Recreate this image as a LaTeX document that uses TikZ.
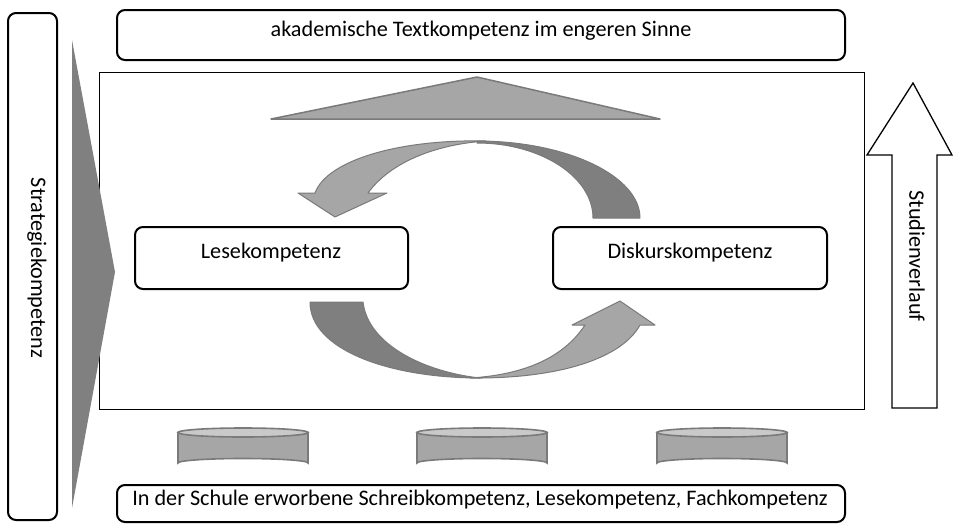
\documentclass[tikz,border=0pt]{standalone}
\usepackage{fontspec}
\setmainfont{Carlito}
\definecolor{fillLight}{HTML}{A6A6A6}
\definecolor{fillDark}{HTML}{7F7F7F}
\definecolor{rimGray}{HTML}{7A7A7A}
\definecolor{discTop}{HTML}{C9C9C9}
\definecolor{wedgeGray}{HTML}{808080}
\begin{document}
\begin{tikzpicture}[x=1pt,y=-1pt,
  rbox/.style={draw=black, line width=2pt, rounded corners=8pt, inner sep=0pt, fill=white},
  lbl/.style={font=\fontsize{22.2}{26}\selectfont, inner sep=0pt},
  lightshape/.style={fill=fillLight, draw=rimGray, line width=1pt, line join=round},
  darkshape/.style={fill=fillDark, draw=rimGray, line width=1pt, line join=round},
  disc/.style={fill=fillLight, draw=rimGray, line width=1.6pt},
  disctop/.style={fill=discTop, draw=rimGray, line width=1.6pt}]
\useasboundingbox (0,0) rectangle (953,525);

% outer frame around the two competences
\node[draw=black, line width=1pt, minimum width=765pt, minimum height=337pt, inner sep=0pt] (frame) at (481.5,240.5) {};

% side box: strategy competence
\node[rbox, minimum width=49pt, minimum height=507pt] (strat) at (32.5,266.5) {};
\node[lbl, rotate=-90] (stratT) at (37,268) {Strategiekompetenz};

% grey wedge pointing into the frame
\fill[wedgeGray] (72,40) -- (115,272) -- (72,508) -- cycle;

% top box
\node[rbox, minimum width=728pt, minimum height=50pt] (top) at (481,35) {};
\node[lbl] (topT) at (481,31) {akademische Textkompetenz im engeren Sinne};

% roof triangle
\draw[lightshape, line width=1.5pt] (271,119) -- (477,77) -- (660,119) -- cycle;

% competence boxes
\node[rbox, minimum width=273pt, minimum height=62pt] (lese) at (271.5,258) {};
\node[lbl] (leseT) at (271,253) {Lesekompetenz};
\node[rbox, minimum width=274pt, minimum height=62pt] (disk) at (690,258) {};
\node[lbl] (diskT) at (690,253) {Diskurskompetenz};

% upper circular arrow (Diskurs -> Lese)
\draw[darkshape] (477,141) .. controls (567,141) and (640,176) .. (640,218)
  -- (593,218) .. controls (593,177) and (541,143) .. (477,143) -- cycle;
\draw[lightshape] (486,141) .. controls (400,139) and (327,160) .. (315,193)
  -- (298,193) -- (335,217) -- (387,193) -- (368,193)
  .. controls (392,160) and (440,144) .. (486,141) -- cycle;

% lower circular arrow (Lese -> Diskurs)
\draw[darkshape] (310,302) .. controls (310,350) and (390,378) .. (480,378)
  .. controls (425,372) and (368,345) .. (363,302) -- cycle;
\draw[lightshape] (470,378) .. controls (560,379) and (622,358) .. (640,325)
  -- (655,325) -- (620,301) -- (572,325) -- (585,325)
  .. controls (562,360) and (520,375) .. (470,378) -- cycle;

% right arrow: course of studies
\draw[line width=1.3pt, fill=white, line join=miter]
  (913,83) -- (952,155) -- (937,155) -- (937,408) -- (892,408) -- (892,155) -- (867,155) -- cycle;
\node[lbl, rotate=-90] (studT) at (917,256) {Studienverlauf};

% foundation discs
\foreach \cx/\nm in {243/d1, 482/d2, 722/d3}{
  \draw[disc] (\cx-65,432.5) -- (\cx-65,463) arc[start angle=180, end angle=0, x radius=65pt, y radius=4.5pt] -- (\cx+65,432.5) -- cycle;
  \draw[disctop] (\cx,432.5) ellipse[x radius=65pt, y radius=4.5pt];
  \coordinate (\nm) at (\cx,448);
}

% bottom box
\node[rbox, minimum width=728pt, minimum height=37pt] (base) at (481,503.5) {};
\node[lbl] (baseT) at (480,500) {In der Schule erworbene Schreibkompetenz, Lesekompetenz, Fachkompetenz};
\end{tikzpicture}
\end{document}
